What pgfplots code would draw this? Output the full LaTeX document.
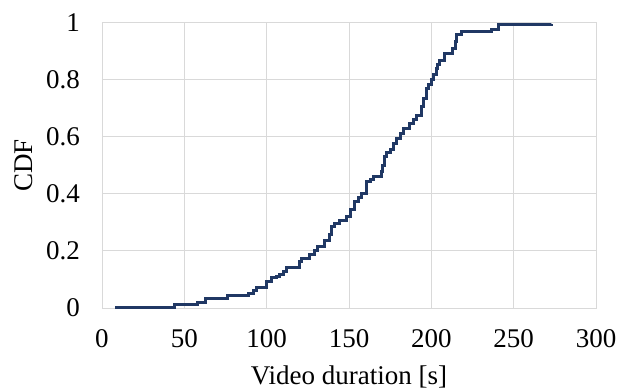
\documentclass[border=0pt]{standalone}
\usepackage{pgfplots}
\pgfplotsset{compat=1.18}
\usepackage{fontspec}
\setmainfont{Liberation Serif}
\definecolor{navy}{HTML}{203864}
\definecolor{gridg}{HTML}{D9D9D9}
\begin{document}
\fontsize{27bp}{32bp}\selectfont
\begin{tikzpicture}
\useasboundingbox (-102bp,-84bp) rectangle (516bp,308bp);
\begin{axis}[
  at={(0,0)}, anchor=south west,
  scale only axis, width=494bp, height=285.3bp,
  xmin=0, xmax=300, ymin=0, ymax=1,
  xtick={0,50,...,300}, ytick={0,0.2,...,1},
  grid=major, major grid style={gridg, line width=0.9bp},
  axis line style={gridg, line width=0.9bp},
  tick style={draw=none},
  /pgf/number format/assume math mode=true,
  ticklabel style={font=\fontsize{27bp}{32bp}\selectfont},
  yticklabel style={anchor=east, inner sep=0pt, xshift=-22bp},
  xticklabel style={anchor=north, inner sep=0pt, yshift=-21bp},
  xlabel={Video duration [s]}, ylabel={CDF},
  label style={font=\fontsize{27bp}{32bp}\selectfont, inner sep=0pt},
  xlabel style={at={(axis description cs:0.5,0)}, anchor=base, yshift=-76bp},
  ylabel style={at={([xshift=-69bp]axis description cs:0,0.5)}, anchor=base},
]
\addplot[const plot, navy, line width=3bp] coordinates {
(8,0.002) (44,0.013) (58,0.019) (63,0.032) (76,0.043) (89,0.051) (92,0.060)
(94,0.072) (100,0.092) (103,0.108) (106,0.112) (108,0.116) (110,0.128) (112,0.143)
(120,0.162) (121,0.174) (126,0.186) (129,0.200) (131,0.215) (135,0.238) (138,0.258)
(139.5,0.285) (141,0.295) (144,0.306) (148.6,0.32) (151,0.345) (153.6,0.375)
(156,0.388) (157.7,0.402) (160.7,0.443) (163,0.452) (164.7,0.46) (169.8,0.478)
(170.5,0.500) (171.8,0.53) (173,0.545) (175,0.554) (177,0.575) (179,0.595)
(181,0.612) (183,0.63) (187,0.647) (189,0.662) (191,0.676) (194,0.706) (195,0.735)
(197,0.77) (198.5,0.785) (200,0.80) (201.5,0.82) (203,0.84) (204,0.855) (205,0.869)
(208,0.892) (213,0.91) (214.5,0.935) (215.3,0.957) (218.4,0.968) (227.5,0.97)
(236.6,0.976) (240.6,0.993) (273,0.995)
};
\end{axis}
\end{tikzpicture}
\end{document}
